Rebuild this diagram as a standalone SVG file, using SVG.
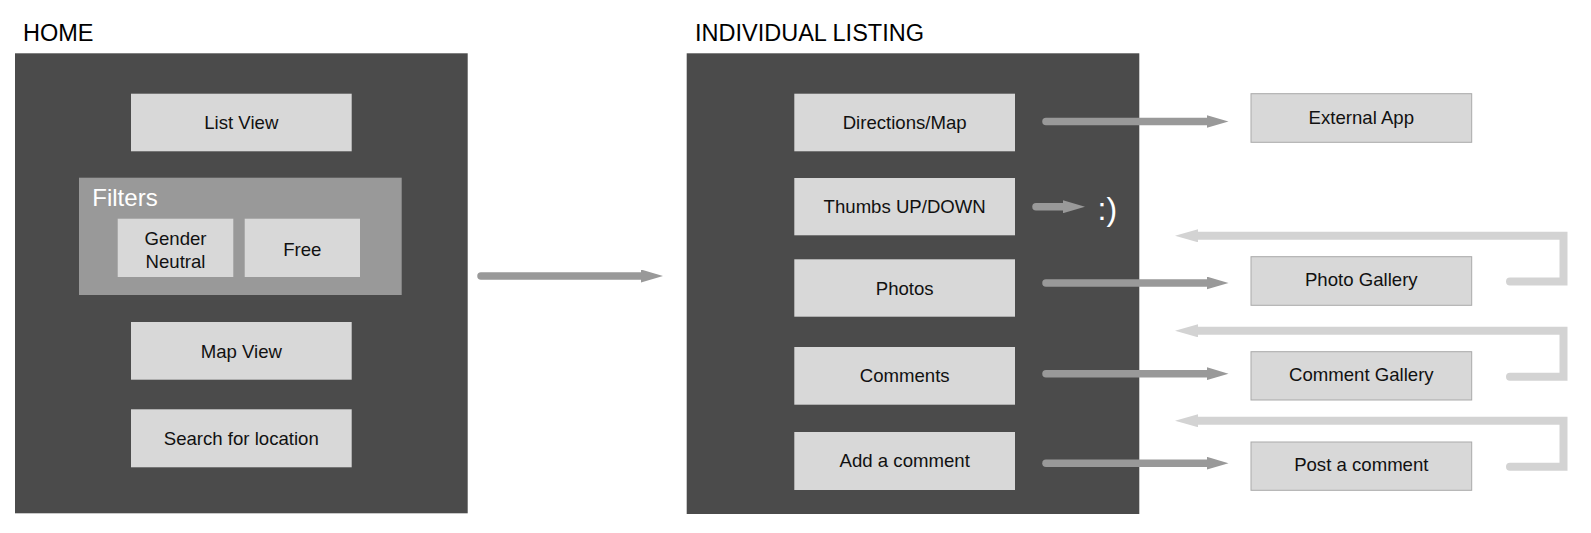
<svg xmlns="http://www.w3.org/2000/svg" width="1591" height="533" viewBox="0 0 1591 533">
<style>
  .title { font-family: "Liberation Sans", Arial, sans-serif; font-size: 23.5px; fill: #000; }
  .panel { fill: #4b4b4b; }
  .box { fill: #d8d8d8; }
  .obox { fill: #d8d8d8; stroke: #a9a9a9; stroke-width: 1; }
  .filters { fill: #999999; }
  .lbl { font-family: "Liberation Sans", Arial, sans-serif; font-size: 18.6px; fill: #111; text-anchor: middle; }
  .wt { font-family: "Liberation Sans", Arial, sans-serif; fill: #fff; }
  .fwd { fill: none; stroke: #999999; stroke-width: 7.5; stroke-linecap: round; }
  .back { fill: none; stroke: #d3d3d3; stroke-width: 8; stroke-linejoin: miter; stroke-linecap: round; }
</style>
<defs>
  <marker id="headDark" markerUnits="userSpaceOnUse" viewBox="0 0 22 13" refX="0" refY="6.5" markerWidth="22" markerHeight="13" orient="auto">
    <path d="M0,0 L22,6.5 L0,13 Z" fill="#999999"/>
  </marker>
  <marker id="headLight" markerUnits="userSpaceOnUse" viewBox="0 0 23 13" refX="0" refY="6.5" markerWidth="23" markerHeight="13" orient="auto">
    <path d="M0,0 L23,6.5 L0,13 Z" fill="#d3d3d3"/>
  </marker>
</defs>
<rect width="1591" height="533" fill="#ffffff"/>

<g id="home">
  <text class="title" x="23" y="40.5">HOME</text>
  <rect class="panel" x="15" y="53.3" width="452.7" height="460"/>
  <g id="list-view">
    <rect class="box" x="131" y="93.7" width="220.7" height="57.6"/>
    <text class="lbl" x="241.3" y="129">List View</text>
  </g>
  <g id="filters">
    <rect class="filters" x="79" y="177.7" width="322.7" height="117.3"/>
    <text class="wt" x="92.3" y="205.7" font-size="24">Filters</text>
    <g id="gender-neutral">
      <rect class="box" x="117.7" y="218.7" width="115.6" height="58.3"/>
      <text class="lbl" x="175.5" y="245">Gender</text>
      <text class="lbl" x="175.5" y="267.7">Neutral</text>
    </g>
    <g id="free">
      <rect class="box" x="244.7" y="218.7" width="115.3" height="58.3"/>
      <text class="lbl" x="302.3" y="255.5">Free</text>
    </g>
  </g>
  <g id="map-view">
    <rect class="box" x="131" y="322" width="220.7" height="57.7"/>
    <text class="lbl" x="241.3" y="357.5">Map View</text>
  </g>
  <g id="search">
    <rect class="box" x="131" y="409.3" width="220.7" height="58"/>
    <text class="lbl" x="241.3" y="444.8">Search for location</text>
  </g>
</g>

<g id="listing">
  <text class="title" x="695" y="40.5">INDIVIDUAL LISTING</text>
  <rect class="panel" x="686.7" y="53.3" width="452.6" height="460.7"/>
  <g id="directions">
    <rect class="box" x="794.3" y="93.7" width="220.7" height="57.6"/>
    <text class="lbl" x="904.7" y="129">Directions/Map</text>
  </g>
  <g id="thumbs">
    <rect class="box" x="794.3" y="178" width="220.7" height="57.3"/>
    <text class="lbl" x="904.7" y="213">Thumbs UP/DOWN</text>
  </g>
  <g id="photos">
    <rect class="box" x="794.3" y="259.3" width="220.7" height="57.4"/>
    <text class="lbl" x="904.7" y="295">Photos</text>
  </g>
  <g id="comments">
    <rect class="box" x="794.3" y="347" width="220.7" height="57.7"/>
    <text class="lbl" x="904.7" y="381.5">Comments</text>
  </g>
  <g id="add-comment">
    <rect class="box" x="794.3" y="432" width="220.7" height="58"/>
    <text class="lbl" x="904.7" y="467">Add a comment</text>
  </g>
  <g id="smiley">
    <text class="wt" x="1097.5" y="219.5" font-size="32">:)</text>
  </g>
</g>

<g id="external-app">
  <rect class="obox" x="1251" y="93.7" width="220.7" height="48.6"/>
  <text class="lbl" x="1361.3" y="123.5">External App</text>
</g>
<g id="photo-gallery">
  <rect class="obox" x="1251" y="256.7" width="220.7" height="48.6"/>
  <text class="lbl" x="1361.3" y="286.3">Photo Gallery</text>
</g>
<g id="comment-gallery">
  <rect class="obox" x="1251" y="351.7" width="220.7" height="48.3"/>
  <text class="lbl" x="1361.3" y="381.3">Comment Gallery</text>
</g>
<g id="post-comment">
  <rect class="obox" x="1251" y="442" width="220.7" height="48.3"/>
  <text class="lbl" x="1361.3" y="471">Post a comment</text>
</g>

<g id="connectors">
  <path class="fwd" d="M481,276 H641" marker-end="url(#headDark)"/>
  <path class="fwd" d="M1046,121.5 H1206.5" marker-end="url(#headDark)"/>
  <path class="fwd" d="M1036,206.7 H1063" marker-end="url(#headDark)"/>
  <path class="fwd" d="M1046,283 H1206.5" marker-end="url(#headDark)"/>
  <path class="fwd" d="M1046,373.7 H1206.5" marker-end="url(#headDark)"/>
  <path class="fwd" d="M1046,463.2 H1206.5" marker-end="url(#headDark)"/>
  <path class="back" d="M1510,281.5 H1563.5 V235.8 H1198" marker-end="url(#headLight)"/>
  <path class="back" d="M1510,376.7 H1563.5 V330.8 H1198" marker-end="url(#headLight)"/>
  <path class="back" d="M1510,466.7 H1563.5 V420.7 H1198" marker-end="url(#headLight)"/>
</g>
</svg>
